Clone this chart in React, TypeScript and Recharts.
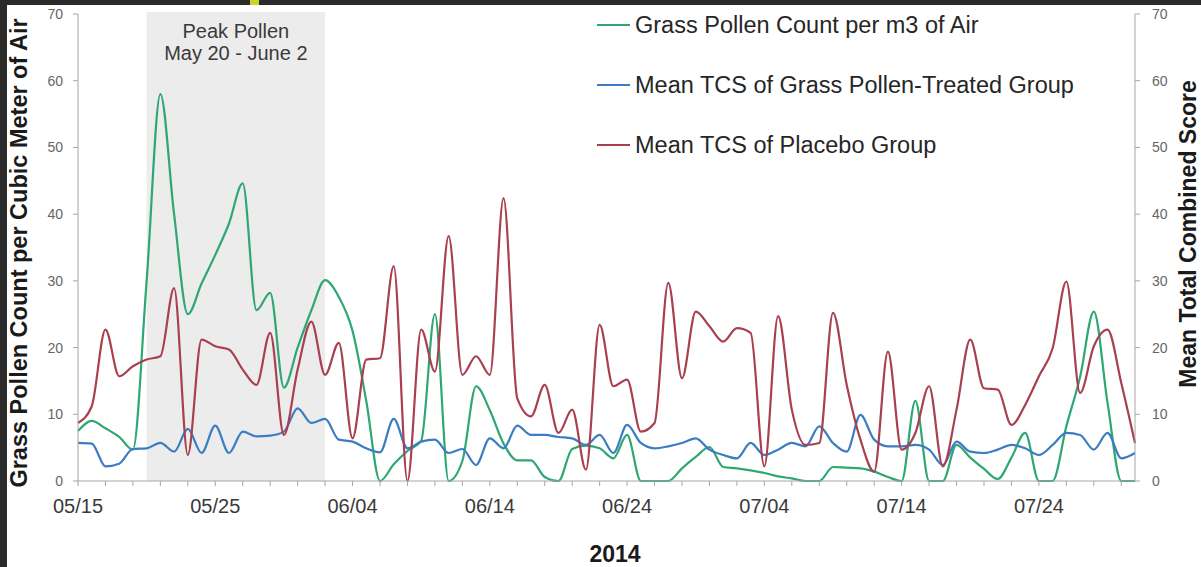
import { LineChart, Line, XAxis, YAxis, ReferenceArea, Legend, Label } from "recharts";

const FONT = "'Liberation Sans', Arial, sans-serif";

const dates = [
  "05/15", "05/16", "05/17", "05/18", "05/19", "05/20", "05/21", "05/22", "05/23", "05/24",
  "05/25", "05/26", "05/27", "05/28", "05/29", "05/30", "05/31", "06/01", "06/02", "06/03",
  "06/04", "06/05", "06/06", "06/07", "06/08", "06/09", "06/10", "06/11", "06/12", "06/13",
  "06/14", "06/15", "06/16", "06/17", "06/18", "06/19", "06/20", "06/21", "06/22", "06/23",
  "06/24", "06/25", "06/26", "06/27", "06/28", "06/29", "06/30", "07/01", "07/02", "07/03",
  "07/04", "07/05", "07/06", "07/07", "07/08", "07/09", "07/10", "07/11", "07/12", "07/13",
  "07/14", "07/15", "07/16", "07/17", "07/18", "07/19", "07/20", "07/21", "07/22", "07/23",
  "07/24", "07/25", "07/26", "07/27", "07/28", "07/29", "07/30", "07/31",
];

// grass pollen per m3 of air
const pollen = [
  7.5, 9.0, 7.9, 6.6, 4.7, 30, 58, 40, 25, 29.6,
  33.9, 38.6, 44.6, 25.6, 28.2, 14, 20, 25.6, 30.1, 27.6,
  22.5, 12, 0, 2.5, 4.5, 6, 25, 0, 3, 14.2,
  10.6, 5.6, 3.1, 3.1, 0.6, 0, 4.8, 5.3, 4.9, 3.4,
  6.9, 0, 0, 0, 1.9, 3.6, 5.1, 2.1, 1.9, 1.6,
  1.2, 0.7, 0.4, 0, 0, 2.1, 2.0, 1.9, 1.4, 0.6,
  0, 12, 0, 0, 5.4, 3.5, 1.8, 0.3, 3.5, 7.2,
  0, 0, 8.2, 15.6, 25.4, 11.7, 0, 0,
];

// mean TCS, grass pollen-treated group
const treated = [
  5.7, 5.6, 2.2, 2.6, 4.8, 4.9, 5.7, 4.4, 7.8, 4.2,
  8.3, 4.2, 7.4, 6.7, 6.8, 7.4, 10.9, 8.7, 9.3, 6.2,
  5.9, 4.9, 4.3, 9.3, 4.9, 5.9, 6.2, 4.2, 4.8, 2.4,
  6.4, 4.9, 8.3, 6.9, 6.9, 6.6, 6.4, 5.4, 6.9, 4.2,
  8.4, 5.7, 4.9, 5.2, 5.7, 6.4, 4.7, 3.9, 3.4, 5.7,
  3.9, 4.7, 5.7, 5.2, 8.2, 5.7, 4.4, 9.9, 6.2, 5.2,
  5.2, 5.4, 4.7, 2.4, 5.9, 4.4, 4.2, 4.7, 5.4, 4.9,
  3.9, 5.4, 7.2, 6.9, 4.7, 7.2, 3.4, 4.2,
];

// mean TCS, placebo group
const placebo = [
  8.7, 11.2, 22.7, 15.7, 17.2, 18.2, 18.7, 28.9, 3.9, 21.2,
  20.2, 19.7, 16.7, 14.4, 22.2, 6.9, 16.7, 23.9, 15.9, 20.7,
  6.4, 18.2, 18.4, 32.2, 0, 22.7, 16.4, 36.7, 15.9, 18.7,
  15.9, 42.4, 12.4, 9.7, 14.4, 7.2, 10.7, 1.7, 23.4, 14.2,
  15.2, 7.4, 8.7, 29.7, 15.4, 25.4, 23.2, 20.9, 22.9, 22.2,
  2.2, 24.7, 10.7, 5.4, 5.7, 25.2, 14.4, 6.2, 1.4, 19.4,
  4.7, 7.2, 14.2, 2.2, 10.7, 21.2, 13.9, 13.7, 8.4, 11.4,
  15.7, 19.9, 29.9, 13.2, 20.2, 22.7, 14.7, 5.7,
];

const tickLabels = ["05/15", "05/25", "06/04", "06/14", "06/24", "07/04", "07/14", "07/24"];
const yTicks = [0, 10, 20, 30, 40, 50, 60, 70];

const data = dates.map((date, i) => ({
  date,
  pollen: pollen[i],
  treated: treated[i],
  placebo: placebo[i],
}));

const minorTicks = dates.filter((_, i) => i % 2 === 0);

const AXIS = "#a6a6a6";

function DateTick(props: any) {
  const { x, y, payload } = props;
  if (!tickLabels.includes(payload.value)) return <g />;
  return (
    <text x={x} y={y + 25} textAnchor="middle" fill="#3a3a3a" fontSize={20} fontFamily={FONT}>
      {payload.value}
    </text>
  );
}

function PeakLabel(props: any) {
  const { viewBox } = props;
  const cx = viewBox.x + viewBox.width / 2;
  return (
    <g fill="#3a3a3a" fontSize={20} fontFamily={FONT} textAnchor="middle">
      <text x={cx} y={viewBox.y + 26}>Peak Pollen</text>
      <text x={cx} y={viewBox.y + 48}>May 20 - June 2</text>
    </g>
  );
}

function LegendContent(props: any) {
  const { payload } = props;
  return (
    <div style={{ display: "flex", flexDirection: "column", gap: 30, fontFamily: FONT }}>
      {(payload || []).map((p: any) => (
        <div key={p.value} style={{ display: "flex", alignItems: "center", height: 30 }}>
          <svg width={38} height={30}>
            <line x1={0} y1={15} x2={33} y2={15} stroke={p.color} strokeWidth={2} />
          </svg>
          <span style={{ fontSize: 23.5, color: "#262626", whiteSpace: "nowrap" }}>{p.value}</span>
        </div>
      ))}
    </div>
  );
}

export default function App() {
  return (
    <div
      style={{
        position: "absolute",
        left: 0,
        top: 0,
        width: 1201,
        height: 567,
        background: "#fff",
        overflow: "hidden",
        fontFamily: FONT,
      }}
    >
      <LineChart width={1201} height={567} data={data} margin={{ top: 14, right: 0, bottom: 0, left: 0 }}>
        <ReferenceArea
          yAxisId="left"
          x1="05/20"
          x2="06/02"
          y1={0}
          y2={70.3}
          ifOverflow="visible"
          fill="#d9d9d9"
          fillOpacity={0.5}
          stroke="none"
          label={PeakLabel}
        />
        <XAxis
          dataKey="date"
          ticks={minorTicks}
          interval={0}
          tick={<DateTick />}
          tickSize={5}
          height={86}
          axisLine={{ stroke: AXIS }}
          tickLine={{ stroke: AXIS }}
        >
          <Label
            content={() => (
              <text x={615} y={562} textAnchor="middle" fontSize={23} fontWeight="bold" fill="#1a1a1a" fontFamily={FONT}>
                2014
              </text>
            )}
          />
        </XAxis>
        <YAxis
          yAxisId="left"
          domain={[0, 70]}
          ticks={yTicks}
          width={78}
          tickSize={5}
          tickMargin={10}
          axisLine={{ stroke: AXIS }}
          tickLine={{ stroke: AXIS }}
          tick={{ fill: "#666", fontSize: 14, fontFamily: FONT }}
        >
          <Label
            content={() => (
              <text
                x={27}
                y={253}
                transform="rotate(-90 27 253)"
                textAnchor="middle"
                fontSize={23.5}
                fontWeight="bold"
                fill="#1a1a1a"
                fontFamily={FONT}
              >
                Grass Pollen Count per Cubic Meter of Air
              </text>
            )}
          />
        </YAxis>
        <YAxis
          yAxisId="right"
          orientation="right"
          domain={[0, 70]}
          ticks={yTicks}
          width={66}
          tickSize={5}
          tickMargin={12}
          axisLine={{ stroke: AXIS }}
          tickLine={{ stroke: AXIS }}
          tick={{ fill: "#666", fontSize: 14, fontFamily: FONT, textAnchor: "start" }}
        >
          <Label
            content={() => (
              <text
                x={1196}
                y={234}
                transform="rotate(-90 1196 234)"
                textAnchor="middle"
                fontSize={23}
                fontWeight="bold"
                fill="#1a1a1a"
                fontFamily={FONT}
              >
                Mean Total Combined Score
              </text>
            )}
          />
        </YAxis>
        <Line
          yAxisId="left"
          type="monotone"
          dataKey="pollen"
          name="Grass Pollen Count per m3 of Air"
          stroke="#2ea772"
          strokeWidth={2.2}
          dot={false}
          isAnimationActive={false}
        />
        <Line
          yAxisId="right"
          type="monotone"
          dataKey="treated"
          name="Mean TCS of Grass Pollen-Treated Group"
          stroke="#3c7cc2"
          strokeWidth={2.2}
          dot={false}
          isAnimationActive={false}
        />
        <Line
          yAxisId="right"
          type="monotone"
          dataKey="placebo"
          name="Mean TCS of Placebo Group"
          stroke="#a8404f"
          strokeWidth={2.2}
          dot={false}
          isAnimationActive={false}
        />
        <Legend
          layout="vertical"
          align="center"
          verticalAlign="middle"
          content={<LegendContent />}
          wrapperStyle={{ left: 597, top: 10, width: 580 }}
        />
      </LineChart>
      <div style={{ position: "absolute", left: 0, top: 0, width: 1201, height: 5, background: "#2b2b2b" }} />
      <div style={{ position: "absolute", left: 0, top: 0, width: 7, height: 567, background: "#2b2b2b" }} />
      <div style={{ position: "absolute", left: 250, top: 0, width: 9, height: 5, background: "#c9d52c" }} />
    </div>
  );
}
